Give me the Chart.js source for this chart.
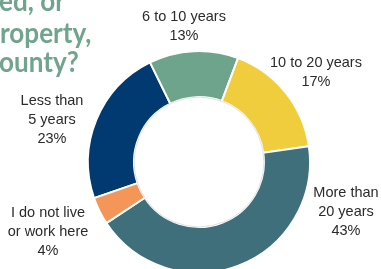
<!DOCTYPE html>
<html>
<head>
<meta charset="utf-8">
<script src="https://cdn.jsdelivr.net/npm/chart.js@4.4.1/dist/chart.umd.min.js"></script>
<style>
  html, body { margin: 0; padding: 0; background: #fff; overflow: hidden; }
  #wrap { position: relative; width: 381px; height: 269px; overflow: hidden; }
  #chart { position: absolute; left: 0; top: 0; }
  .ttl {
    position: absolute;
    font-family: Lato, "Liberation Sans", sans-serif;
    font-weight: bold;
    font-size: 29px;
    line-height: 29px;
    color: #70a48c;
    white-space: nowrap;
    transform: scaleX(0.9);
    transform-origin: left top;
  }
</style>
</head>
<body>
<div id="wrap">
  <canvas id="chart" width="381" height="269"></canvas>
  <div class="ttl" style="left:-1px; top:-15px;">ed, or</div>
  <div class="ttl" style="left:0px; top:17px;">roperty,</div>
  <div class="ttl" style="left:-1px; top:46px;">ounty?</div>
</div>
<script>
// clockwise from the navy slice
const categories = [
    ['Less than', '5 years'],
    ['6 to 10 years'],
    ['10 to 20 years'],
    ['More than', '20 years'],
    ['I do not live', 'or work here']
];
const shares = [23, 13, 17, 43, 4];
const colors = ['#003a70', '#6ea48b', '#f0cd3c', '#3e6f7b', '#f39658'];

// where each label block sits (centre of its first line)
const labelAt = [[52, 101], [184, 17], [316, 63], [346, 193], [48, 213]];

const outsideLabels = {
    id: 'outsideLabels',
    afterDatasetsDraw(chart) {
        const ctx = chart.ctx;
        const meta = chart.getDatasetMeta(0);
        // faint rim round the hole
        const arc = meta.data[0];
        ctx.save();
        ctx.beginPath();
        ctx.arc(arc.x, arc.y, arc.innerRadius, 0, Math.PI * 2);
        ctx.strokeStyle = 'rgba(0,0,0,0.12)';
        ctx.lineWidth = 1;
        ctx.stroke();

        ctx.font = '14.5px "Liberation Sans", Arial, sans-serif';
        ctx.fillStyle = '#2b2b2b';
        ctx.textAlign = 'center';
        ctx.textBaseline = 'middle';
        const data = chart.data.datasets[0].data;
        chart.data.labels.forEach((lab, i) => {
            const lines = lab.concat([data[i] + '%']);
            const [x, y] = labelAt[i];
            lines.forEach((t, k) => ctx.fillText(t, x, y + k * 19));
        });
        ctx.restore();
    }
};

new Chart(document.getElementById('chart'), {
    type: 'doughnut',
    data: {
        labels: categories,
        datasets: [{
            data: shares,
            backgroundColor: colors,
            borderColor: '#ffffff',
            borderWidth: 2
        }]
    },
    options: {
        responsive: false,
        animation: false,
        rotation: -109,
        radius: 111,
        cutout: 62,
        layout: { padding: { left: 17, right: 0, top: 55, bottom: 0 } },
        plugins: {
            legend: { display: false },
            tooltip: { enabled: false }
        }
    },
    plugins: [outsideLabels]
});
</script>
</body>
</html>
